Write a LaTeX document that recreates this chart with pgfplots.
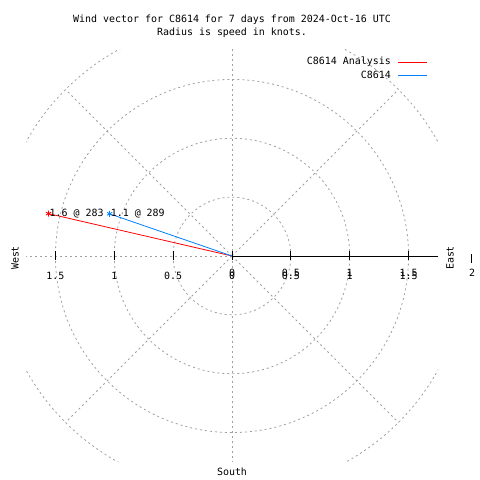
\documentclass[border=0pt]{standalone}
\usepackage{pgfplots}
\pgfplotsset{compat=1.18}
\usepackage{fontspec}
\setmainfont{DejaVu Sans Mono}
\definecolor{gridgray}{RGB}{160,160,160}
\definecolor{serblue}{RGB}{0,128,255}
\begin{document}
\begin{tikzpicture}[font=\fontsize{10}{12}\selectfont]
\useasboundingbox (0bp,0bp) rectangle (480bp,480bp);
\begin{axis}[
  at={(26bp,18bp)}, anchor=south west,
  scale only axis, width=412bp, height=412bp,
  xmin=-1.75, xmax=1.75, ymin=-1.75, ymax=1.75,
  axis lines=none, ticks=none, clip=false,
]
\begin{scope}
\clip (axis cs:-1.75,-1.75) rectangle (axis cs:1.75,1.75);
\begin{scope}[gridgray, line width=0.8bp, dash pattern=on 2bp off 3bp]
\draw (axis cs:0,0) circle[radius=0.5];
\draw (axis cs:0,0) circle[radius=1];
\draw (axis cs:0,0) circle[radius=1.5];
\draw (axis cs:0,0) circle[radius=2];
\draw (axis cs:0,0) -- (axis cs:1.4142,1.4142);
\draw (axis cs:0,0) -- (axis cs:0,2);
\draw (axis cs:0,0) -- (axis cs:-1.4142,1.4142);
\draw (axis cs:0,0) -- (axis cs:-2,0);
\draw (axis cs:0,0) -- (axis cs:-1.4142,-1.4142);
\draw (axis cs:0,0) -- (axis cs:0,-2);
\draw (axis cs:0,0) -- (axis cs:1.4142,-1.4142);
\end{scope}
\end{scope}
\draw[black, line width=0.8bp] (axis cs:0,0) -- (axis cs:1.75,0);
\pgfplotsinvokeforeach{-1.5,-1,-0.5,0,0.5,1,1.5}{
  \draw[black, line width=0.8bp] (axis cs:#1,0) ++(0bp,-4.5bp) -- ++(0bp,9bp);
}
\addplot[red, line width=0.8bp, mark=asterisk, mark indices={2}, mark size=3bp, mark options={solid}]
  coordinates {(0,0) (-1.5590,0.3599)};
\addplot[serblue, line width=0.8bp, mark=asterisk, mark indices={2}, mark size=3bp, mark options={solid}]
  coordinates {(0,0) (-1.0401,0.3581)};
\node[anchor=west, inner sep=0pt, xshift=1bp] at (axis cs:-1.5590,0.3599) {1.6 @ 283};
\node[anchor=west, inner sep=0pt, xshift=1bp] at (axis cs:-1.0401,0.3581) {1.1 @ 289};
\end{axis}
% title
\node at (232bp,460bp) {Wind vector for C8614 for 7 days from 2024-Oct-16 UTC};
\node at (232bp,447bp) {Radius is speed in knots.};
% legend
\node[anchor=east, inner sep=0pt] at (391bp,418bp) {C8614 Analysis};
\draw[red, line width=0.8bp] (398bp,418bp) -- (427bp,418bp);
\node[anchor=east, inner sep=0pt] at (391bp,405bp) {C8614};
\draw[serblue, line width=0.8bp] (398bp,405bp) -- (427bp,405bp);
% direction labels
\node[rotate=90] at (15bp,222bp) {West};
\node[rotate=90] at (450bp,222bp) {East};
\node at (232bp,8bp) {South};
\node at (472bp,207bp) {2};
\draw[black, line width=0.8bp] (471bp,217bp) -- (471bp,226bp);
% tick labels
\node at (55.4bp,204bp) {1.5};
\node at (114.3bp,204bp) {1};
\node at (173.1bp,204bp) {0.5};
\node at (232bp,204bp) {0};
\node at (232bp,207bp) {0};
\node at (290.9bp,204bp) {0.5};
\node at (290.9bp,207bp) {0.5};
\node at (349.7bp,204bp) {1};
\node at (349.7bp,207bp) {1};
\node at (408.6bp,204bp) {1.5};
\node at (408.6bp,207bp) {1.5};
\end{tikzpicture}
\end{document}
